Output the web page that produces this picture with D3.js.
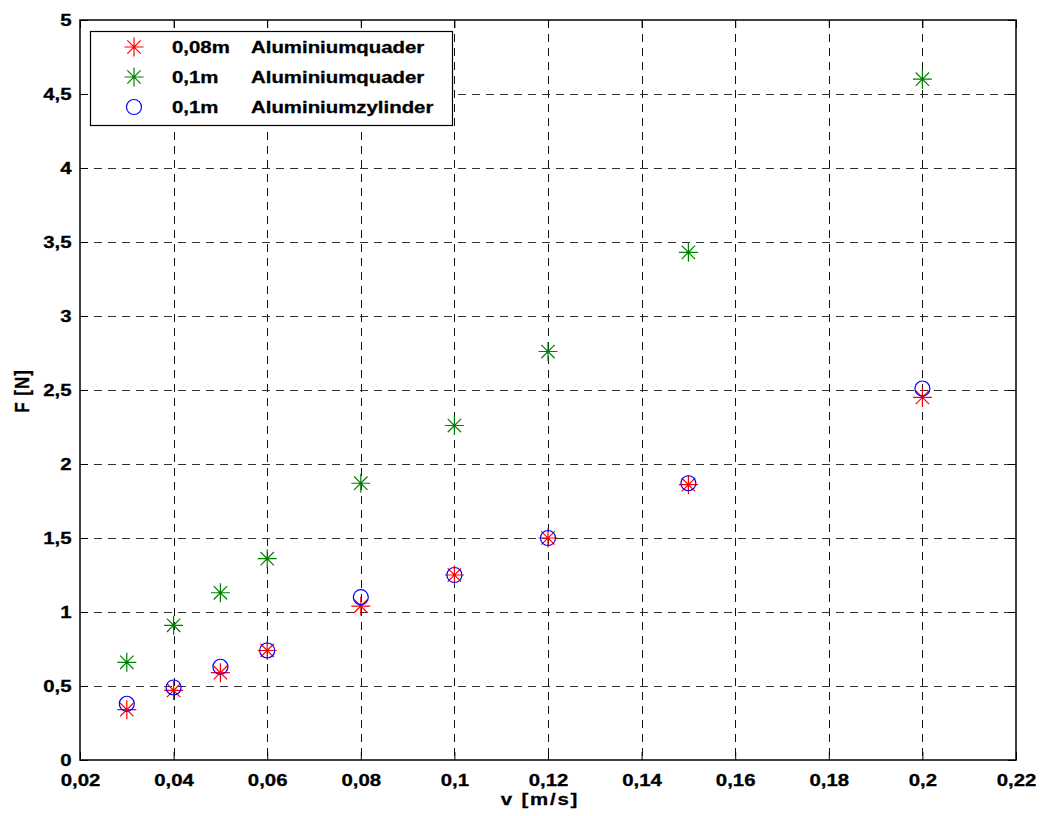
<!DOCTYPE html>
<html><head><meta charset="utf-8">
<script src="https://cdn.jsdelivr.net/npm/d3@7"></script>
<style>
body{margin:0;background:#fff;}
text{font-family:"Liberation Sans",Arial,sans-serif;font-weight:bold;fill:#000;stroke:#000;stroke-width:0.3px;}
</style></head>
<body><svg id="c" width="1040" height="816"></svg>
<script>
const velocities = [0.03,0.04,0.05,0.06,0.08,0.1,0.12,0.15,0.2];
const quader008 = [0.34,0.47,0.59,0.74,1.04,1.25,1.50,1.86,2.45];
const quader01  = [0.66,0.91,1.13,1.36,1.87,2.26,2.76,3.43,4.60];
const zylinder01= [0.38,0.49,0.63,0.74,1.10,1.25,1.50,1.87,2.51];
const xTicks = [0.02,0.04,0.06,0.08,0.1,0.12,0.14,0.16,0.18,0.2,0.22];
const yTicks = [0,0.5,1,1.5,2,2.5,3,3.5,4,4.5,5];
const seriesNames = [["0,08m","Aluminiumquader"],["0,1m","Aluminiumquader"],["0,1m","Aluminiumzylinder"]];
const seriesColors = ["#ff0000","#008000","#0000ff"];
const seriesMarkers = ["star","star","circle"];

const svg = d3.select("#c");
const L=80,R=1016,T=20,B=760;
const SX=1.2; // horizontal stretch of the text as in the reference
const x = d3.scaleLinear().domain([0.02,0.22]).range([L,R]);
const y = d3.scaleLinear().domain([0,5]).range([B,T]);
const fmt = d => String(+d.toFixed(2)).replace(".",",");
const styleText = a => a.selectAll("text").attr("font-size",17).attr("transform",`scale(${SX},1)`)
  .attr("font-family","Liberation Sans, Arial").attr("font-weight","bold").attr("fill","#000");

// grid
const g = svg.append("g");
g.selectAll(".vg").data(xTicks.slice(1,-1)).enter().append("line")
  .attr("x1",d=>Math.round(x(d))+0.5).attr("x2",d=>Math.round(x(d))+0.5).attr("y1",T).attr("y2",B)
  .attr("stroke","#111").attr("stroke-dasharray","8,6");
g.selectAll(".hg").data(yTicks.slice(1,-1)).enter().append("line")
  .attr("y1",d=>Math.round(y(d))+0.5).attr("y2",d=>Math.round(y(d))+0.5).attr("x1",L).attr("x2",R)
  .attr("stroke","#333").attr("stroke-dasharray","8,6");

// axes via d3
const tl=8;
svg.append("g").attr("transform",`translate(0,${B})`)
  .call(d3.axisBottom(x).tickValues(xTicks).tickFormat(fmt).tickSizeInner(-tl).tickSizeOuter(0).tickPadding(14))
  .call(a=>{a.select(".domain").remove();styleText(a);});
svg.append("g").attr("transform",`translate(0,${T})`)
  .call(d3.axisTop(x).tickValues(xTicks).tickFormat("").tickSizeInner(-tl).tickSizeOuter(0))
  .call(a=>a.select(".domain").remove());
svg.append("g").attr("transform",`translate(${L},0)`)
  .call(d3.axisLeft(y).tickValues(yTicks).tickFormat(fmt).tickSizeInner(-tl).tickSizeOuter(0).tickPadding(7))
  .call(a=>{a.select(".domain").remove();styleText(a);});
svg.append("g").attr("transform",`translate(${R},0)`)
  .call(d3.axisRight(y).tickValues(yTicks).tickFormat("").tickSizeInner(-tl).tickSizeOuter(0))
  .call(a=>a.select(".domain").remove());
svg.selectAll(".tick line").attr("stroke","#000");

svg.append("rect").attr("x",L).attr("y",T).attr("width",R-L).attr("height",B-T)
  .attr("fill","none").attr("stroke","#000").attr("stroke-width",1.5);

// markers
function drawMarker(sel,type,color,cx,cy){
  if(type==="circle"){
    sel.append("circle").attr("cx",cx).attr("cy",cy).attr("r",7.5).attr("fill","none").attr("stroke",color).attr("stroke-width",1.2);
  } else {
    const r=9.5, d=6.7;
    const p=`M${cx-r},${cy}H${cx+r}M${cx},${cy-r}V${cy+r}M${cx-d},${cy-d}L${cx+d},${cy+d}M${cx-d},${cy+d}L${cx+d},${cy-d}`;
    sel.append("path").attr("d",p).attr("stroke",color).attr("stroke-width",1.2).attr("fill","none");
  }
}
const allSeries=[quader008,quader01,zylinder01];
allSeries.forEach((vals,i)=>{
  const gs=svg.append("g");
  vals.forEach((v,j)=>drawMarker(gs,seriesMarkers[i],seriesColors[i],x(velocities[j]),y(v)));
});

// legend
const lg=svg.append("g");
lg.append("rect").attr("x",90.5).attr("y",31.5).attr("width",362).attr("height",94).attr("fill","#fff").attr("stroke","#000").attr("stroke-width",1.2);
seriesNames.forEach((n,i)=>{
  const cy=47+i*30;
  drawMarker(lg,seriesMarkers[i],seriesColors[i],134,cy);
  lg.append("text").attr("transform",`translate(172,${cy+6}) scale(${SX},1)`).attr("font-size",17).text(n[0]);
  lg.append("text").attr("transform",`translate(251,${cy+6}) scale(${SX},1)`).attr("font-size",17).text(n[1]);
});

// axis labels
svg.append("text").attr("transform",`translate(540,805) scale(${SX},1)`).attr("text-anchor","middle").attr("font-size",17).attr("letter-spacing","1.5px").text("v [m/s]");
svg.append("text").attr("transform",`translate(29,391) scale(${SX},1) rotate(-90)`).attr("text-anchor","middle").attr("font-size",17).attr("letter-spacing","1px").text("F [N]");
</script></body></html>
